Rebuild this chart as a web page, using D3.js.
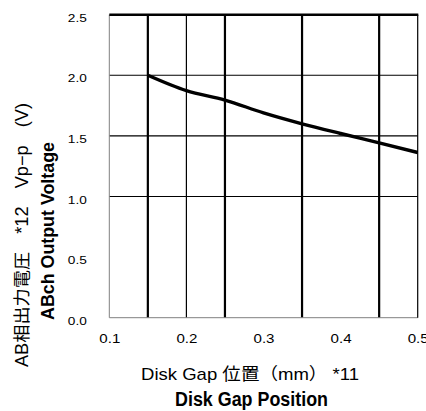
<!DOCTYPE html>
<html><head><meta charset="utf-8">
<script src="https://cdn.jsdelivr.net/npm/d3@7"></script>
<style>body{margin:0;background:#fff}svg{display:block}</style>
</head><body>
<script>
const gapX = [0.15, 0.20, 0.25, 0.30, 0.35, 0.40, 0.45, 0.50];
const voltY = [2.00, 1.873, 1.796, 1.69, 1.60, 1.52, 1.443, 1.363];
const xTicks = [0.1, 0.2, 0.3, 0.4, 0.5];
const yTicks = [0.0, 0.5, 1.0, 1.5, 2.0, 2.5];
const hGrid = [1.0, 1.5, 2.0];
const vGridThick = [0.15, 0.25, 0.35, 0.45];
const vGridThin = [0.20];
const xTitle1 = "Disk Gap 位置（mm） *11";
const xTitle2 = "Disk Gap Position";
const yTitle1 = "AB相出力電圧　*12　Vp−p　(V)";
const yTitle2 = "ABch Output Voltage";

const W = 426, H = 411;
const m = {l: 109.3, r: 417.7, t: 14.7, b: 317.7};
const svg = d3.select("body").append("svg").attr("width", W).attr("height", H);
const x = d3.scaleLinear().domain([0.1, 0.5]).range([m.l, m.r]);
const y = d3.scaleLinear().domain([0, 2.5]).range([m.b, m.t]);
const font = "'Liberation Sans', 'Noto Sans CJK JP', sans-serif";

// horizontal grid
svg.append("g").selectAll("line").data(hGrid).join("line")
  .attr("x1", m.l).attr("x2", m.r).attr("y1", d => y(d)).attr("y2", d => y(d))
  .attr("stroke", "#000").attr("stroke-width", 1.1);
// vertical grid
svg.append("g").selectAll("line").data(vGridThick).join("line")
  .attr("x1", d => x(d)).attr("x2", d => x(d)).attr("y1", m.t).attr("y2", m.b)
  .attr("stroke", "#000").attr("stroke-width", 2.2);
svg.append("g").selectAll("line").data(vGridThin).join("line")
  .attr("x1", d => x(d)).attr("x2", d => x(d)).attr("y1", m.t).attr("y2", m.b)
  .attr("stroke", "#000").attr("stroke-width", 1.2);
// borders
svg.append("line").attr("x1", m.l).attr("x2", m.l).attr("y1", m.t).attr("y2", m.b)
  .attr("stroke", "#808080").attr("stroke-width", 1);
svg.append("line").attr("x1", m.l).attr("x2", m.r).attr("y1", m.b).attr("y2", m.b)
  .attr("stroke", "#808080").attr("stroke-width", 1);
svg.append("line").attr("x1", m.r).attr("x2", m.r).attr("y1", m.t).attr("y2", m.b)
  .attr("stroke", "#000").attr("stroke-width", 1.2);
svg.append("line").attr("x1", m.l).attr("x2", m.r + 0.6).attr("y1", m.t).attr("y2", m.t)
  .attr("stroke", "#000").attr("stroke-width", 2.5);

// data line
const line = d3.line().x((d, i) => x(gapX[i])).y(d => y(d)).curve(d3.curveMonotoneX);
svg.append("path").datum(voltY).attr("d", line)
  .attr("fill", "none").attr("stroke", "#000").attr("stroke-width", 3.4);

// axes labels via d3 axes
const yAxis = d3.axisLeft(y).tickValues(yTicks).tickFormat(d3.format(".1f")).tickSize(0).tickPadding(22.5);
const gy = svg.append("g").attr("transform", `translate(${m.l},0)`).call(yAxis);
gy.select(".domain").remove();
gy.selectAll("text").attr("font-family", font).attr("font-size", 10.5).attr("fill", "#000")
  .attr("dy", "0.62em").attr("textLength", 19).attr("lengthAdjust", "spacingAndGlyphs");

const xAxis = d3.axisBottom(x).tickValues(xTicks).tickFormat(d3.format(".1f")).tickSize(0).tickPadding(0);
const gx = svg.append("g").attr("transform", `translate(0,${m.b})`).call(xAxis);
gx.select(".domain").remove();
gx.selectAll("text").attr("font-family", font).attr("font-size", 13.5).attr("fill", "#000")
  .attr("y", 25).attr("dy", 0).attr("textLength", 21).attr("lengthAdjust", "spacingAndGlyphs");

// titles
svg.append("text").attr("x", 250).attr("y", 379.5).attr("text-anchor", "middle")
  .attr("font-family", font).attr("font-size", 17)
  .attr("textLength", 218).attr("lengthAdjust", "spacingAndGlyphs").text(xTitle1);
svg.append("text").attr("x", 251.5).attr("y", 406).attr("text-anchor", "middle")
  .attr("font-family", font).attr("font-size", 19.5).attr("font-weight", "bold")
  .attr("textLength", 153).attr("lengthAdjust", "spacingAndGlyphs").text(xTitle2);
svg.append("text").attr("transform", "translate(27.5,235) rotate(-90)").attr("text-anchor", "middle")
  .attr("font-family", font).attr("font-size", 17.5)
  .attr("textLength", 264).attr("lengthAdjust", "spacingAndGlyphs").text(yTitle1);
svg.append("text").attr("transform", "translate(54,231) rotate(-90)").attr("text-anchor", "middle")
  .attr("font-family", font).attr("font-size", 18.5).attr("font-weight", "bold")
  .attr("textLength", 178).attr("lengthAdjust", "spacingAndGlyphs").text(yTitle2);
</script>
</body></html>
